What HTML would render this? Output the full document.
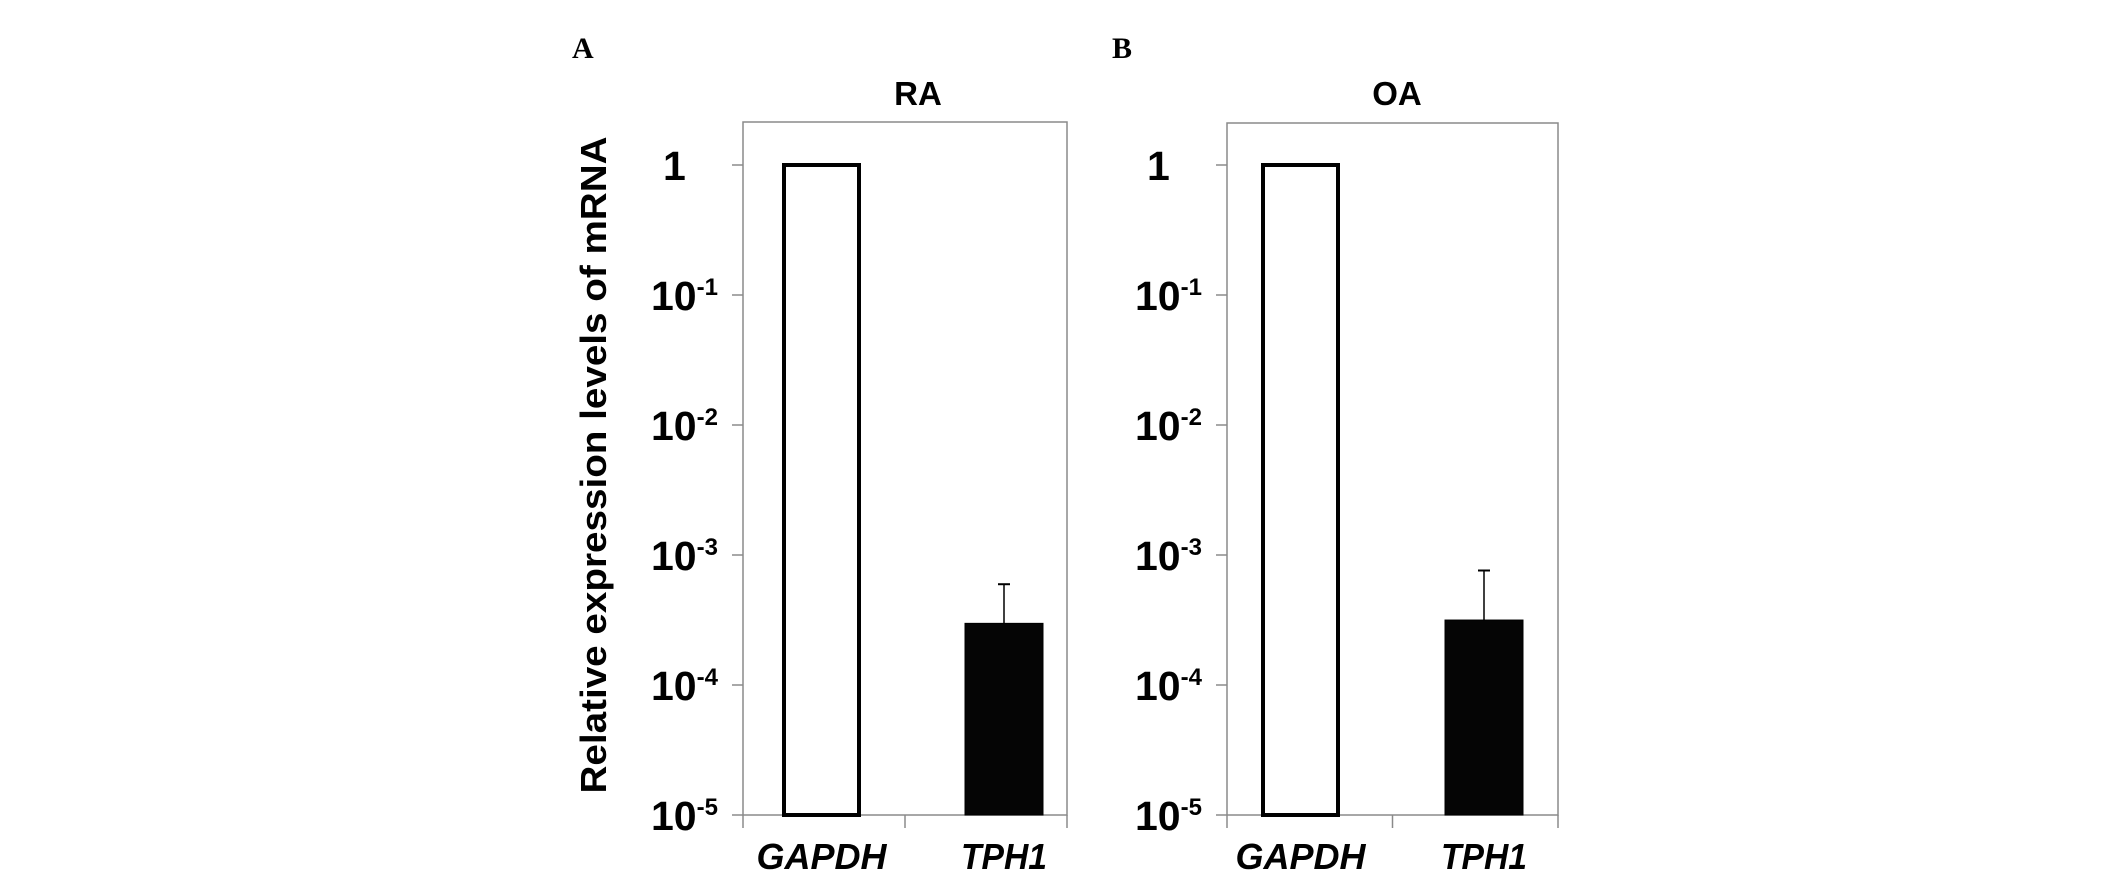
<!DOCTYPE html>
<html><head><meta charset="utf-8"><style>
html,body{margin:0;padding:0;background:#fff;}
svg{display:block;}
text{font-family:"Liberation Sans",Arial,sans-serif;}
</style></head><body>
<svg id="fig" width="2126" height="888" viewBox="0 0 2126 888">
<text x="572" y="58" font-weight="bold" font-size="30" style="font-family:'Liberation Serif',serif">A</text>
<text x="1112" y="58" font-weight="bold" font-size="30" style="font-family:'Liberation Serif',serif">B</text>
<text transform="translate(606,465) rotate(-90)" text-anchor="middle" font-weight="bold" font-size="36" textLength="657" lengthAdjust="spacingAndGlyphs">Relative expression levels of mRNA</text>
</svg>
<script>
const categories = ["GAPDH", "TPH1"];
const panelTitles = ["RA", "OA"];
const valuesRA = [1, 2.98e-4];
const errorsRA = [0, 5.96e-4];
const valuesOA = [1, 3.16e-4];
const errorsOA = [0, 7.6e-4];
const tickExponents = [0, -1, -2, -3, -4, -5];

const NS = "http://www.w3.org/2000/svg";
const svg = document.getElementById("fig");
function mk(tag, attrs, parent) {
  const e = document.createElementNS(NS, tag);
  for (const k in attrs) e.setAttribute(k, attrs[k]);
  (parent || svg).appendChild(e);
  return e;
}
const panels = [
  {left: 743, right: 1067, top: 122, bottom: 815, titleX: 918, title: panelTitles[0], vals: valuesRA, errs: errorsRA, bars: [[784, 859], [965, 1043]], key: "ra"},
  {left: 1227, right: 1558, top: 123, bottom: 815, titleX: 1397, title: panelTitles[1], vals: valuesOA, errs: errorsOA, bars: [[1263, 1338], [1445, 1523]], key: "oa"}
];
panels.forEach(p => {
  const g = mk("g", {});
  
  
  const decade = (p.bottom - 165) / 5;
  const y = v => p.bottom - (Math.log10(v) + 5) * decade;
  const frame = mk("rect", {x: p.left, y: p.top, width: p.right - p.left, height: p.bottom - p.top, fill: "none", stroke: "#8a8a8a", "stroke-width": 1.5}, g);
  
  
  const t = mk("text", {x: p.titleX, y: 105, "text-anchor": "middle", "font-weight": "bold", "font-size": 33}, g);
  t.textContent = p.title;
  
  
  tickExponents.forEach(ex => {
    const ty = y(Math.pow(10, ex));
    const tk = mk("line", {x1: p.left - 11, x2: p.left, y1: ty, y2: ty, stroke: "#8a8a8a", "stroke-width": 1.5}, g);
    
    
    const lbl = mk("text", {x: p.left - 92, y: ty + 15, "text-anchor": "start", "font-weight": "bold", "font-size": 41}, g);
    
    
    if (ex === 0) { lbl.textContent = "1"; lbl.setAttribute("x", p.left - 92 + 12); }
    else {
      const a = mk("tspan", {}, lbl); a.textContent = "10";
      const b = mk("tspan", {"font-size": 24, dy: -15}, lbl); b.textContent = String(ex);
    }
  });
  const mid = (p.left + p.right) / 2;
  [p.left, mid, p.right].forEach(x => {
    const l = mk("line", {x1: x, x2: x, y1: p.bottom, y2: p.bottom + 13, stroke: "#8a8a8a", "stroke-width": 1.5}, g);
    
    
  });
  categories.forEach((c, i) => {
    const [x0, x1] = p.bars[i];
    const top = y(p.vals[i]);
    const r = mk("rect", {x: x0, y: top, width: x1 - x0, height: p.bottom - top, fill: i === 0 ? "#fff" : "#050505", stroke: "#000", "stroke-width": i === 0 ? 4 : 1}, g);
    
    
    if (p.errs[i] > 0) {
      const cx = (x0 + x1) / 2;
      const et = y(p.errs[i]);
      const e1 = mk("line", {x1: cx, x2: cx, y1: et, y2: top, stroke: "#000", "stroke-width": 1.5}, g);
      
      
      const e2 = mk("line", {x1: cx - 6, x2: cx + 6, y1: et, y2: et, stroke: "#000", "stroke-width": 2}, g);
      
      
    }
    const xl = mk("text", {x: (x0 + x1) / 2, y: 869, "text-anchor": "middle", "font-weight": "bold", "font-style": "italic", "font-size": 36, textLength: i === 0 ? 130 : 86, lengthAdjust: "spacingAndGlyphs"}, g);
    xl.textContent = c;
    
    
  });
});
</script>
</body></html>
